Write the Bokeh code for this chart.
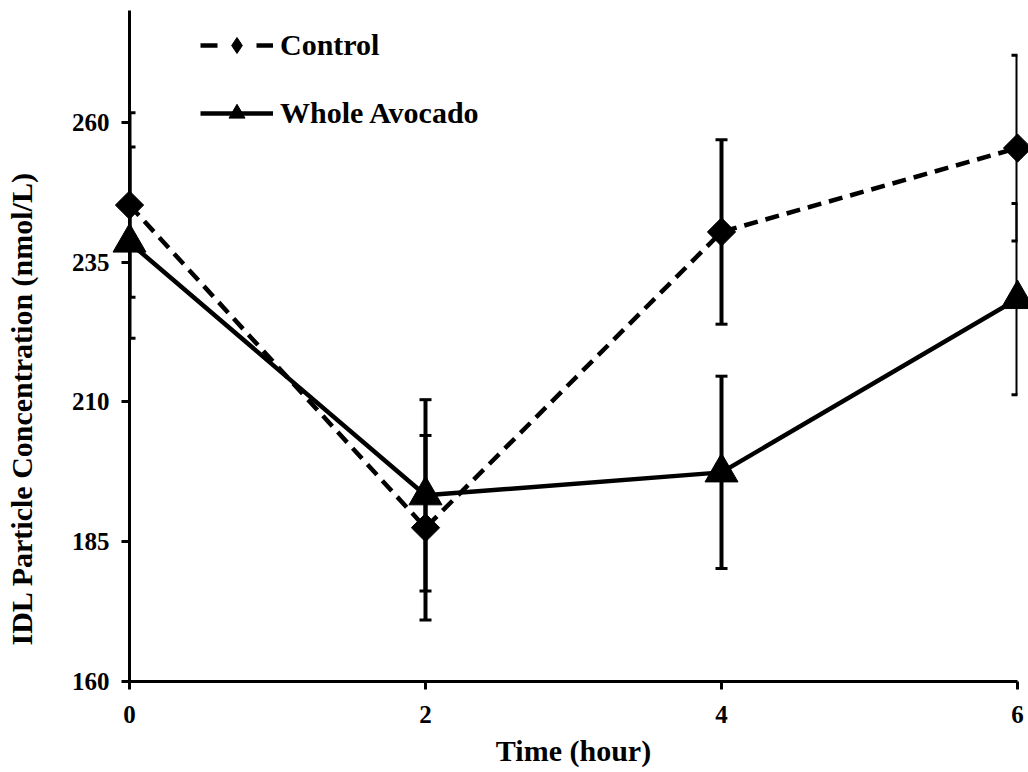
import numpy as np
from bokeh.plotting import figure
from bokeh.models import (Range1d, FixedTicker, ColumnDataSource, Whisker, TeeHead,
                          Legend, LegendItem, Title)
from bokeh.embed import file_html
from bokeh.resources import INLINE

# ---- data ----
time_hours = [0, 2, 4, 6]
control_mean = [245.2, 187.5, 240.4, 255.4]
control_err = [16.5, 16.5, 16.5, 16.6]
avocado_mean = [238.5, 193.3, 197.4, 228.4]
avocado_err = [17.1, 17.1, 17.2, 17.1]
y_ticks = [160, 185, 210, 235, 260]
x_ticks = [0, 2, 4, 6]
series_names = ["Control", "Whole Avocado"]
x_title = "Time (hour)"
y_title = "IDL Particle Concentration (nmol/L)"

FONT = "Liberation Serif"

p = figure(width=1028, height=772, x_range=Range1d(0, 6), y_range=Range1d(160, 280),
           output_backend="svg", toolbar_location=None,
           min_border_left=129, min_border_right=11, min_border_top=10, min_border_bottom=91)
p.outline_line_color = None
p.xgrid.visible = False
p.ygrid.visible = False
p.background_fill_color = "white"
p.border_fill_color = "white"

# axes
for ax in (p.xaxis[0], p.yaxis[0]):
    ax.axis_line_width = 3
    ax.axis_line_color = "black"
    ax.major_tick_line_width = 3
    ax.major_tick_line_color = "black"
    ax.major_tick_out = 8
    ax.major_tick_in = 0
    ax.minor_tick_line_color = None
    ax.major_label_text_font = FONT
    ax.major_label_text_font_style = "bold"
    ax.major_label_text_font_size = "25px"
    ax.major_label_text_color = "black"
    ax.axis_label_text_font = FONT
    ax.axis_label_text_font_style = "bold"
    ax.axis_label_text_font_size = "30px"
    ax.axis_label_text_color = "black"

p.xaxis.ticker = FixedTicker(ticks=x_ticks)
p.yaxis.ticker = FixedTicker(ticks=y_ticks)
p.xaxis.axis_label = x_title
p.xaxis.major_label_standoff = 16
p.xaxis.axis_label_standoff = 8
p.yaxis.major_label_standoff = 12
# a tiny blank axis label just reserves a gap between the tick labels and the side title
p.yaxis.axis_label = " "
p.yaxis.axis_label_text_font_size = "1px"
p.yaxis.axis_label_standoff = 25

# y title as a side title (starts a little above the frame bottom, as in the reference)
p.add_layout(Title(text=y_title, align="left", offset=36, standoff=4,
                   text_font=FONT, text_font_style="bold", text_font_size="30px",
                   text_color="black"), "left")

# error bars
for mean, err in ((control_mean, control_err), (avocado_mean, avocado_err)):
    src = ColumnDataSource(dict(
        base=time_hours,
        upper=[m + e for m, e in zip(mean, err)],
        lower=[m - e for m, e in zip(mean, err)],
    ))
    w = Whisker(base="base", upper="upper", lower="lower", source=src,
                line_width=4, line_color="black", level="overlay",
                upper_head=TeeHead(size=12, line_width=3, line_color="black"),
                lower_head=TeeHead(size=12, line_width=3, line_color="black"))
    p.add_layout(w)

# legend-only glyphs for Control: a one-point line (draws nothing) and diamonds hidden
# under the rotated squares drawn later
lc_leg = p.line(time_hours[:1], control_mean[:1], line_width=4.5, line_dash="17 39",
                line_color="black")
sc_leg = p.scatter(time_hours, control_mean, marker="diamond", size=20,
                   fill_color="black", line_color="black")

# series
lc = p.line(time_hours, control_mean, line_width=4.5, line_dash="14 8", line_color="black",
            level="overlay")
sc = p.scatter(time_hours, control_mean, marker="square", angle=np.pi / 4, size=20,
               fill_color="black", line_color="black", level="overlay")
la = p.line(time_hours, avocado_mean, line_width=4.5, line_color="black", level="overlay")
sa = p.scatter(time_hours, avocado_mean, marker="triangle", size=33,
               fill_color="black", line_color="black", level="overlay")

legend = Legend(items=[LegendItem(label=series_names[0], renderers=[lc_leg, sc_leg]),
                       LegendItem(label=series_names[1], renderers=[la, sa])],
                location=(71, 548), orientation="vertical",
                glyph_width=73, glyph_height=40, label_height=40,
                label_standoff=7, spacing=28, padding=0, margin=0,
                border_line_color=None, background_fill_alpha=0,
                label_text_font=FONT, label_text_font_style="bold",
                label_text_font_size="30px", label_text_color="black")
p.add_layout(legend, "center")

open("out.html", "w").write(file_html(p, INLINE))
